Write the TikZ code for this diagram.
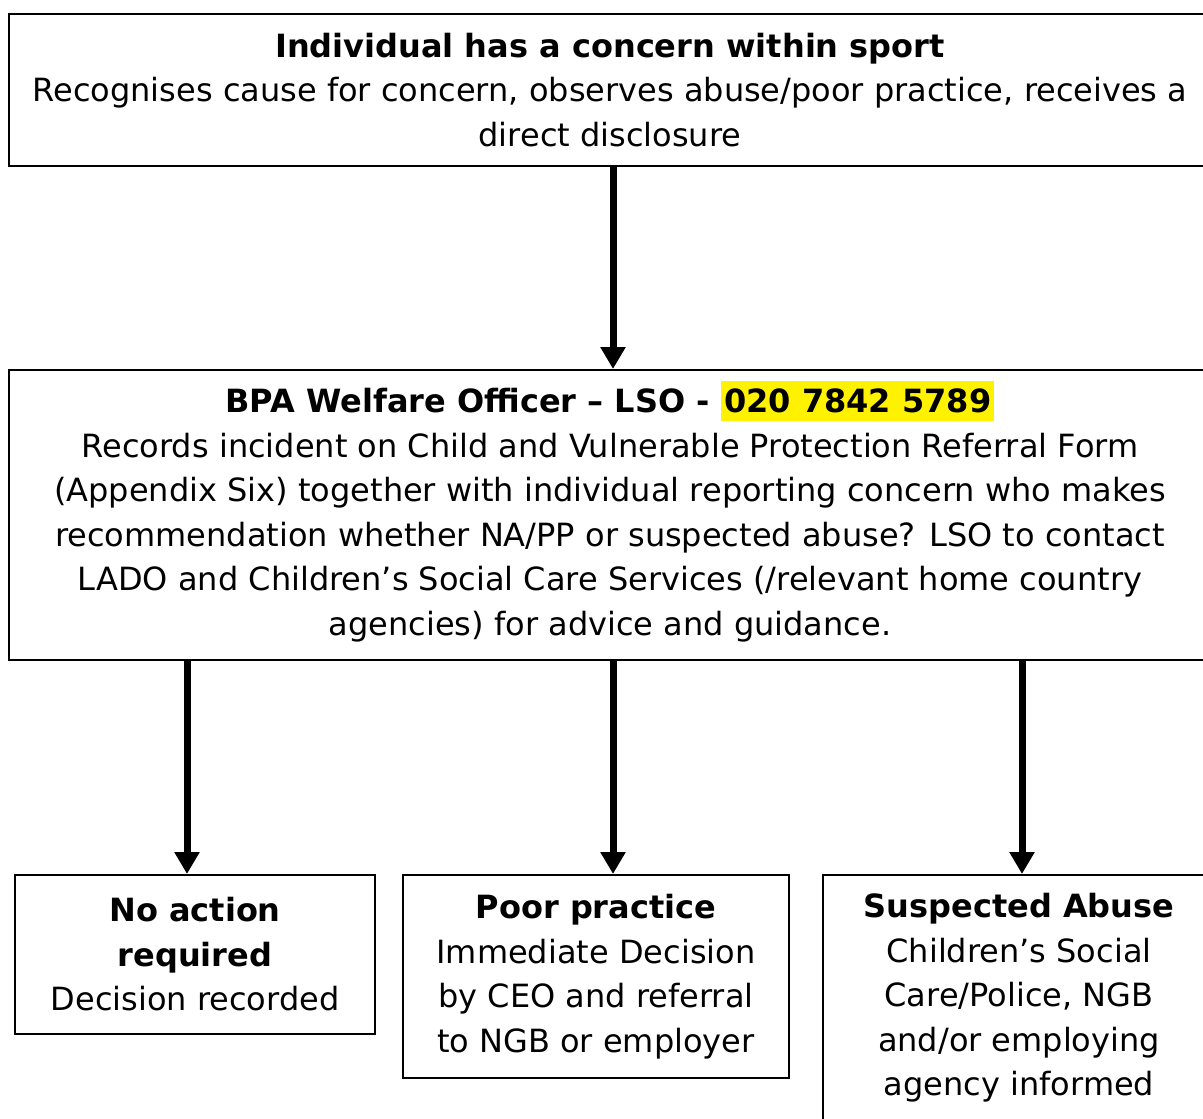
\documentclass[tikz,border=0pt]{standalone}
\usepackage{fontspec}
\setmainfont{DejaVu Sans}
\usepackage{tikz}
\usetikzlibrary{shapes,arrows.meta}

\begin{document}
\begin{tikzpicture}[x=1pt,y=-1pt]
    \tikzstyle{box}=[rectangle,draw,line width=2pt,align=center,inner sep=0pt,
      font=\fontsize{32}{44.5}\selectfont]
    \tikzstyle{arr}=[line width=7pt,-{Triangle[width=24pt,length=22pt]}]
    \useasboundingbox (0,0) rectangle (1203,1119);
    \node[box,minimum width=1202pt,minimum height=152pt] (concern) at (610,90)
      {\textbf{Individual has a concern within sport}\\
       Recognises cause for concern, observes abuse/poor practice, receives a\\
       direct disclosure};
    \node[box,minimum width=1202pt,minimum height=290pt] (welfare) at (610,515)
      {\textbf{BPA Welfare Officer -- LSO - \smash{\fboxsep=0pt\colorbox{yellow}{\rule[-8pt]{0pt}{40pt}\kern3pt 020 7842 5789\kern3pt}}}\\
       Records incident on Child and Vulnerable Protection Referral Form\\
       (Appendix Six) together with individual reporting concern who makes\\
       recommendation whether NA/PP or suspected abuse? LSO to contact\\
       LADO and Children’s Social Care Services (/relevant home country\\
       agencies) for advice and guidance.};
    \node[box,minimum width=360pt,minimum height=159pt] (noaction) at (195,954.5)
      {\textbf{No action}\\ \textbf{required}\\ Decision recorded};
    \node[box,minimum width=386pt,minimum height=203pt] (poorpractice) at (596,976.5)
      {\textbf{Poor practice}\\ Immediate Decision\\ by CEO and referral\\ to NGB or employer};
    \node[box,minimum width=392pt,minimum height=246pt] (abuse) at (1019,998)
      {\textbf{Suspected Abuse}\\ Children’s Social\\ Care/Police, NGB\\ and/or employing\\ agency informed};
    \draw[arr] ([xshift=3pt]concern.south) -- ([xshift=3pt]concern.south |- welfare.north);
    \draw[arr] ([xshift=-8pt]noaction.north |- welfare.south) -- ([xshift=-8pt]noaction.north);
    \draw[arr] ([xshift=17pt]poorpractice.north |- welfare.south) -- ([xshift=17pt]poorpractice.north);
    \draw[arr] ([xshift=3pt]abuse.north |- welfare.south) -- ([xshift=3pt]abuse.north);
  \end{tikzpicture}
\end{document}
